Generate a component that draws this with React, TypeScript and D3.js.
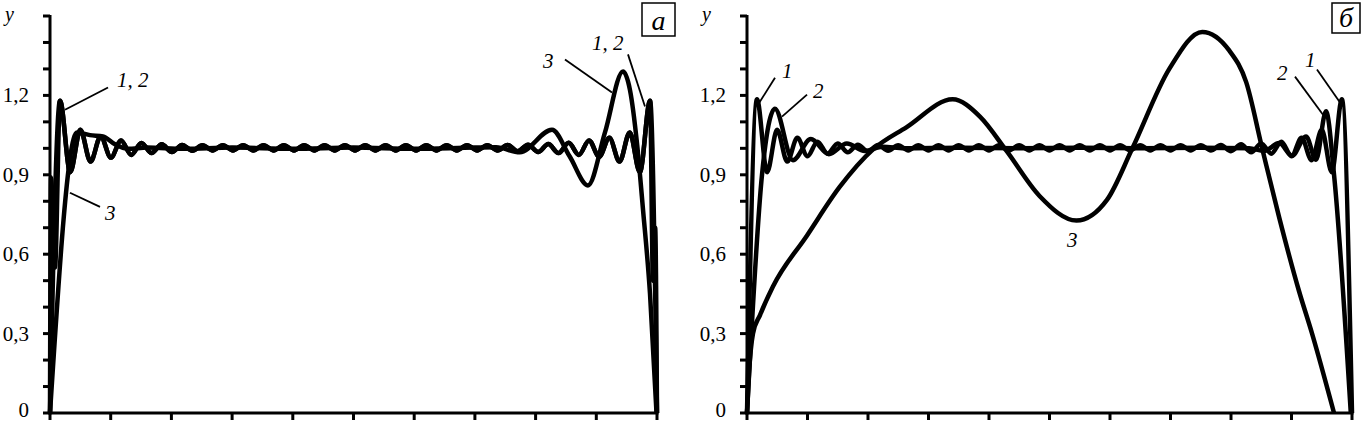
import React from 'react';
import * as d3 from 'd3';

// ---------- axes ----------
const xTickValues = [0, 1, 2, 3, 4, 5, 6, 7, 8, 9, 10];
const yMinorTicks = [0, 0.1, 0.2, 0.3, 0.4, 0.5, 0.6, 0.7, 0.8, 0.9, 1.0, 1.1, 1.2, 1.3, 1.4, 1.5];
const yTickValues = [0, 0.3, 0.6, 0.9, 1.2];
const yTickLabels = ['0', '0,3', '0,6', '0,9', '1,2'];

// ---------- panel а ----------
const gridA = [0.165, 0.333, 0.5, 0.668, 0.835, 1.003, 1.171, 1.338, 1.506, 1.673, 1.841, 2.009, 2.176, 2.344, 2.511, 2.679, 2.847, 3.014, 3.182, 3.349, 3.517, 3.685, 3.852, 4.02, 4.187, 4.355, 4.523, 4.69, 4.858, 5.025, 5.193, 5.361, 5.528, 5.696, 5.863, 6.031, 6.199, 6.366, 6.534, 6.701, 6.869, 7.037, 7.204, 7.372, 7.539, 7.707, 7.875, 8.042, 8.21, 8.377, 8.545, 8.713, 8.88, 9.048, 9.215, 9.383, 9.551, 9.718, 9.886];
const rippleA = [1.18, 0.91, 1.07, 0.95, 1.045, 0.965, 1.03, 0.975, 1.02, 0.982, 1.015, 0.986, 1.013, 0.991,
  1.012, 0.992, 1.012, 0.992, 1.012, 0.992, 1.012, 0.992, 1.012, 0.992, 1.012, 0.992, 1.012, 0.992, 1.012, 0.992,
  1.012, 0.992, 1.012, 0.992, 1.012, 0.992, 1.012, 0.992, 1.012, 0.992, 1.012, 0.992, 1.012, 0.992,
  1.013, 0.989, 1.014, 0.986, 1.016, 0.982, 1.021, 0.975, 1.03, 0.968, 1.04, 0.95, 1.06, 0.91, 1.18];
const edgeLeftA1 = [[0, 0], [0.016, 0.89], [0.082, 0.55]];
const edgeRightA1 = [[9.934, 0.5], [9.97, 0.7], [10, 0]];
const edgeLeftA2 = [[0, 0]];
const edgeRightA2 = [[10, 0]];
const curveA3 = [[0, 0], [0.445, 1.06], [0.659, 1.05], [0.873, 1.045], [1.071, 1.015], [1.285, 0.998], [1.6, 1.003], [2.2, 0.998], [3.0, 1.003], [4.0, 0.998], [5.0, 1.003], [6.0, 0.998], [7.0, 1.003], [7.35, 1.004], [7.74, 0.985], [8.27, 1.07], [8.56, 0.97], [8.863, 0.86], [9.143, 1.06], [9.44, 1.29], [9.555, 1.22], [9.67, 1.02], [9.769, 0.77], [9.885, 0.45], [9.992, 0]];

// ---------- panel б ----------
const gridB = [0.165, 0.332, 0.498, 0.665, 0.832, 0.999, 1.165, 1.332, 1.499, 1.665, 1.832, 1.999, 2.165, 2.332, 2.499, 2.666, 2.832, 2.999, 3.166, 3.332, 3.499, 3.666, 3.832, 3.999, 4.166, 4.333, 4.499, 4.666, 4.833, 4.999, 5.166, 5.333, 5.499, 5.666, 5.833, 6.0, 6.166, 6.333, 6.5, 6.666, 6.833, 7.0, 7.166, 7.333, 7.5, 7.666, 7.833, 8.0, 8.166, 8.333, 8.5, 8.666, 8.833, 9.0, 9.166, 9.333, 9.5, 9.666, 9.833];
const rippleB1 = [1.185, 0.91, 1.07, 0.95, 1.04, 0.97, 1.025, 0.98, 1.018, 0.985, 1.014, 0.988, 1.013, 0.991,
  1.012, 0.992, 1.012, 0.992, 1.012, 0.992, 1.012, 0.992, 1.012, 0.992, 1.012, 0.992, 1.012, 0.992, 1.012, 0.992,
  1.012, 0.992, 1.012, 0.992, 1.012, 0.992, 1.012, 0.992, 1.012, 0.992, 1.012, 0.992, 1.012, 0.992, 1.012, 0.992,
  1.013, 0.989, 1.015, 0.985, 1.018, 0.98, 1.025, 0.97, 1.04, 0.955, 1.07, 0.91, 1.185];
const edgeLeftB1 = [[0, 0]];
const edgeRightB1 = [[10, 0]];
const curveB2 = [[0, 0], [0.248, 0.9], [0.462, 1.15], [0.759, 0.955], [1.056, 1.035], [1.353, 0.978], [1.65, 1.018], [1.947, 0.99], [2.244, 1.006], [2.6, 1.0], [3.5, 1.002], [4.5, 1.0], [5.5, 1.002], [6.5, 1.0], [7.5, 1.002], [8.3, 1.0], [8.548, 0.99], [8.795, 1.02], [9.01, 0.972], [9.24, 1.045], [9.406, 0.957], [9.571, 1.14], [9.703, 0.9], [9.98, 0]];
const curveB3 = [[0, 0], [0.033, 0.15], [0.099, 0.3], [0.215, 0.37], [0.429, 0.478], [0.99, 0.67], [1.535, 0.855], [2.079, 0.995], [2.64, 1.08], [3.399, 1.185], [3.85, 1.12], [4.29, 0.99], [4.835, 0.82], [5.446, 0.727], [5.95, 0.805], [6.37, 1.0], [6.98, 1.3], [7.525, 1.44], [7.97, 1.37], [8.251, 1.25], [8.515, 1.0], [8.795, 0.74], [9.125, 0.46], [9.34, 0.3], [9.703, 0]];

// ---------- annotations (data coordinates) ----------
const annotA = [
  { text: '1, 2', tx: 1.104, ty: 1.233, lx1: 0.956, ly1: 1.23, lx2: 0.247, ly2: 1.146 },
  { text: '3', tx: 0.906, ty: 0.73, lx1: 0.824, ly1: 0.779, lx2: 0.329, ly2: 0.832 },
  { text: '3', tx: 8.122, ty: 1.305, lx1: 8.484, ly1: 1.336, lx2: 9.259, ly2: 1.211 },
  { text: '1, 2', tx: 8.929, ty: 1.373, lx1: 9.522, ly1: 1.355, lx2: 9.802, ly2: 1.158 },
];
const annotB = [
  { text: '1', tx: 0.579, ty: 1.267, lx1: 0.463, ly1: 1.267, lx2: 0.182, ly2: 1.165 },
  { text: '2', tx: 1.091, ty: 1.192, lx1: 0.992, ly1: 1.203, lx2: 0.579, ly2: 1.12 },
  { text: '2', tx: 8.76, ty: 1.26, lx1: 9.058, ly1: 1.271, lx2: 9.521, ly2: 1.127 },
  { text: '1', tx: 9.223, ty: 1.309, lx1: 9.421, ly1: 1.298, lx2: 9.802, ly2: 1.173 },
  { text: '3', tx: 5.289, ty: 0.628 },
];

const FONT = '"Liberation Serif", "Times New Roman", serif';

function zip(xs: number[], ys: number[]) {
  return xs.map((x, i) => [x, ys[i]] as [number, number]);
}

type Annot = { text: string; tx: number; ty: number; lx1?: number; ly1?: number; lx2?: number; ly2?: number };

function Panel({ x, y, curves, annots, letter, box }: {
  x: d3.ScaleLinear<number, number>; y: d3.ScaleLinear<number, number>;
  curves: [number, number][][]; annots: Annot[]; letter: string; box: { x: number; y: number; w: number; h: number };
}) {
  const line = d3.line<[number, number]>().x(d => x(d[0])).y(d => y(d[1])).curve(d3.curveMonotoneX);
  const x0 = x(0);
  const y0 = y(0);
  const [xa, xb] = x.range();
  return (
    <g>
      {curves.map((c, i) => (
        <path key={i} d={line(c) || ''} fill="none" stroke="#000" strokeWidth={4.5} strokeLinejoin="round" />
      ))}
      <line x1={x0} x2={x0} y1={y(1.5) - 1} y2={y0 + 1.5} stroke="#000" strokeWidth={3} />
      <line x1={xa - 1.5} x2={xb + 1.5} y1={y0} y2={y0} stroke="#000" strokeWidth={3} />
      {yMinorTicks.map(t => (
        <line key={t} x1={x0 - 7} x2={x0} y1={y(t)} y2={y(t)} stroke="#000" strokeWidth={3} />
      ))}
      {xTickValues.map(t => (
        <line key={t} x1={x(t)} x2={x(t)} y1={y0} y2={y0 + 7} stroke="#000" strokeWidth={3} />
      ))}
      {yTickValues.map((t, i) => (
        <text key={t} x={x0 - 21} y={Math.min(y(t) + 7, 417)} textAnchor="end" fontFamily={FONT} fontSize={21}>{yTickLabels[i]}</text>
      ))}
      <text x={x0 - 45} y={21} fontFamily={FONT} fontSize={20} fontStyle="italic">y</text>
      {annots.map((a, i) => (
        <g key={i}>
          {a.lx1 !== undefined && (
            <line x1={x(a.lx1)} y1={y(a.ly1!)} x2={x(a.lx2!)} y2={y(a.ly2!)} stroke="#000" strokeWidth={1.8} />
          )}
          <text x={x(a.tx)} y={y(a.ty)} fontFamily={FONT} fontSize={21} fontStyle="italic">{a.text}</text>
        </g>
      ))}
      <rect x={box.x} y={box.y} width={box.w} height={box.h} fill="#fff" stroke="#000" strokeWidth={1.5} />
      <text x={box.x + box.w / 2} y={box.y + box.h - 6} textAnchor="middle" fontFamily={FONT} fontSize={28} fontStyle="italic">{letter}</text>
    </g>
  );
}

export default function App() {
  const y = d3.scaleLinear().domain([0, 1.5]).range([413, 16]);
  const xA = d3.scaleLinear().domain([0, 10]).range([50, 657]);
  const xB = d3.scaleLinear().domain([0, 10]).range([747, 1352]);

  const ripA = zip(gridA, rippleA);
  const ripB = zip(gridB, rippleB1);
  const a1 = [...edgeLeftA1, ...ripA, ...edgeRightA1] as [number, number][];
  const a2 = [...edgeLeftA2, ...ripA, ...edgeRightA2] as [number, number][];
  const b1 = [...edgeLeftB1, ...ripB, ...edgeRightB1] as [number, number][];

  return (
    <div style={{ position: 'absolute', left: 0, top: 0 }}>
      <svg width={1370} height={423} style={{ display: 'block', background: '#fff' }}>
        <rect width={1370} height={423} fill="#fff" />
        <Panel x={xA} y={y} curves={[a2, a1, curveA3 as [number, number][]]} annots={annotA} letter="а" box={{ x: 642, y: 3, w: 33, h: 33 }} />
        <Panel x={xB} y={y} curves={[curveB3 as [number, number][], curveB2 as [number, number][], b1]} annots={annotB} letter="б" box={{ x: 1332, y: 3, w: 28, h: 30 }} />
      </svg>
    </div>
  );
}
